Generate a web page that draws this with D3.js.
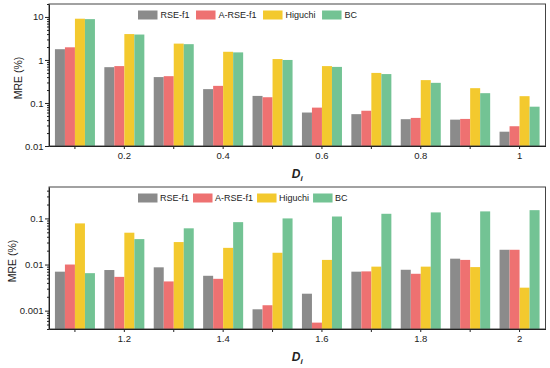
<!DOCTYPE html>
<html lang="en">
<head>
<meta charset="utf-8">
<script src="https://d3js.org/d3.v7.min.js"></script>
<style>
    body { margin: 0; background: #fff; }
    svg text { font-family: "Liberation Sans", Arial, sans-serif; fill: #222; }
    .axis path, .axis line { stroke: #222; }
    .axis--x text { font-size: 9.5px; }
    .axis--y text { font-size: 9.5px; }
    .legend text { font-size: 9px; }
</style>
</head>
<body>
<div id="chart"></div>
<script>
var series = ["RSE-f1", "A-RSE-f1", "Higuchi", "BC"];
var colors = ["#8b8b8b", "#ee7171", "#f3c92e", "#73c394"];

// upper panel, D_i = 0.1 ... 1
var topCats = ["0.1", "0.2", "0.3", "0.4", "0.5", "0.6", "0.7", "0.8", "0.9", "1"];
var topLabels = ["0.2", "0.4", "0.6", "0.8", "1"];
var topRSE = [1.78, 0.68, 0.40, 0.21, 0.146, 0.060, 0.055, 0.042, 0.041, 0.0215];
var topARSE = [1.97, 0.72, 0.42, 0.25, 0.136, 0.078, 0.066, 0.045, 0.0426, 0.0288];
var topHiguchi = [9.1, 4.0, 2.4, 1.55, 1.05, 0.72, 0.50, 0.34, 0.221, 0.144];
var topBC = [8.9, 3.9, 2.33, 1.5, 1.0, 0.69, 0.47, 0.294, 0.169, 0.082];
var topYTicks = [0.01, 0.1, 1, 10];

// lower panel, D_i = 1.1 ... 2
var botCats = ["1.1", "1.2", "1.3", "1.4", "1.5", "1.6", "1.7", "1.8", "1.9", "2"];
var botLabels = ["1.2", "1.4", "1.6", "1.8", "2"];
var botRSE = [0.0070, 0.0076, 0.0087, 0.0057, 0.00107, 0.00233, 0.0070, 0.0077, 0.0134, 0.0209];
var botARSE = [0.0100, 0.0054, 0.0043, 0.0049, 0.00131, 0.00055, 0.0071, 0.0063, 0.0126, 0.0209];
var botHiguchi = [0.078, 0.049, 0.0307, 0.023, 0.018, 0.0126, 0.0090, 0.0090, 0.0088, 0.00315];
var botBC = [0.0065, 0.0356, 0.061, 0.083, 0.100, 0.110, 0.126, 0.135, 0.142, 0.151];
var botYTicks = [0.001, 0.01, 0.1];

var W = 550, H = 368;
var left = 49, right = 545.5, panelH = 142;

var panels = [
    { cats: topCats, labels: topLabels, values: [topRSE, topARSE, topHiguchi, topBC],
      yTicks: topYTicks, domain: [0.01, 20], top: 4, itemGap: 6.5, textGap: 3, titleX: 21.5 },
    { cats: botCats, labels: botLabels, values: [botRSE, botARSE, botHiguchi, botBC],
      yTicks: botYTicks, domain: [0.0004, 0.48], top: 187, itemGap: 4, textGap: 2.5, titleX: 16 }
];

var svg = d3.select("#chart").append("svg")
    .attr("width", W)
    .attr("height", H);

panels.forEach(function(p) {
    var bottom = p.top + panelH;

    var x = d3.scaleBand()
        .domain(p.cats)
        .range([left, right])
        .paddingInner(0.19)
        .paddingOuter(0.12);

    var xs = d3.scaleBand()
        .domain(series)
        .range([0, x.bandwidth()]);

    var y = d3.scaleLog()
        .domain(p.domain)
        .range([bottom, p.top]);

    var color = d3.scaleOrdinal().domain(series).range(colors);

    var rows = p.cats.map(function(c, i) {
        return series.map(function(s, k) { return { cat: c, key: s, value: p.values[k][i] }; });
    });

    // bars
    svg.append("g")
        .selectAll("g")
        .data(rows)
        .enter().append("g")
        .selectAll("rect")
        .data(function(d) { return d; })
        .enter().append("rect")
        .attr("x", function(d) { return x(d.cat) + xs(d.key); })
        .attr("y", function(d) { return y(d.value); })
        .attr("width", xs.bandwidth())
        .attr("height", function(d) { return bottom - y(d.value); })
        .attr("fill", function(d) { return color(d.key); });

    // frame
    svg.append("rect")
        .attr("x", left).attr("y", p.top)
        .attr("width", right - left).attr("height", panelH)
        .attr("fill", "none")
        .attr("stroke", "#444")
        .attr("stroke-width", 1);

    // x axis, ticks at every group, labels every other one
    var xAxis = svg.append("g")
        .attr("class", "axis axis--x")
        .attr("transform", "translate(0," + bottom + ")")
        .call(d3.axisBottom(x).tickSize(3).tickSizeOuter(0)
            .tickFormat(function(d) { return p.labels.indexOf(d) >= 0 ? d : ""; }));
    xAxis.selectAll(".tick text").attr("y", 6);

    // y minor ticks
    var minor = [];
    var lo = Math.floor(Math.log10(p.domain[0])), hi = Math.ceil(Math.log10(p.domain[1]));
    for (var e = lo; e < hi; e++) {
        for (var m = 2; m <= 9; m++) {
            var v = m * Math.pow(10, e);
            if (v >= p.domain[0] && v <= p.domain[1]) minor.push(v);
        }
    }
    svg.append("g")
        .attr("class", "axis axis--minor")
        .attr("transform", "translate(" + left + ",0)")
        .call(d3.axisLeft(y).tickValues(minor).tickSize(2).tickFormat(""))
        .select(".domain").remove();

    // y axis
    svg.append("g")
        .attr("class", "axis axis--y")
        .attr("transform", "translate(" + left + ",0)")
        .call(d3.axisLeft(y).tickValues(p.yTicks).tickSize(4).tickSizeOuter(0)
            .tickFormat(d3.format("~g")))
        .selectAll(".tick text").attr("x", -5.5);

    // y title
    svg.append("text")
        .attr("transform", "translate(" + p.titleX + "," + (p.top + panelH / 2 + 3) + ") rotate(-90)")
        .attr("text-anchor", "middle")
        .style("font-size", "10.5px")
        .text("MRE (%)");

    // x title
    var xt = svg.append("text")
        .attr("x", (left + right) / 2)
        .attr("y", bottom + 32)
        .attr("text-anchor", "middle")
        .style("font-size", "12px")
        .style("font-weight", "bold")
        .style("font-style", "italic");
    xt.append("tspan").text("D");
    xt.append("tspan").attr("dy", 3).style("font-size", "8px").text("i");

    // legend
    var legend = svg.append("g")
        .attr("class", "legend")
        .attr("transform", "translate(138," + (p.top + 6.5) + ")");
    var cx = 0;
    series.forEach(function(s) {
        var item = legend.append("g").attr("transform", "translate(" + cx + ",0)");
        item.append("rect")
            .attr("width", 19.5).attr("height", 9)
            .attr("fill", color(s));
        var t = item.append("text")
            .attr("x", 19.5 + p.textGap)
            .attr("y", 4.5)
            .attr("dy", "0.35em")
            .text(s);
        cx += 19.5 + p.textGap + t.node().getComputedTextLength() + p.itemGap;
    });
});
</script>
</body>
</html>
